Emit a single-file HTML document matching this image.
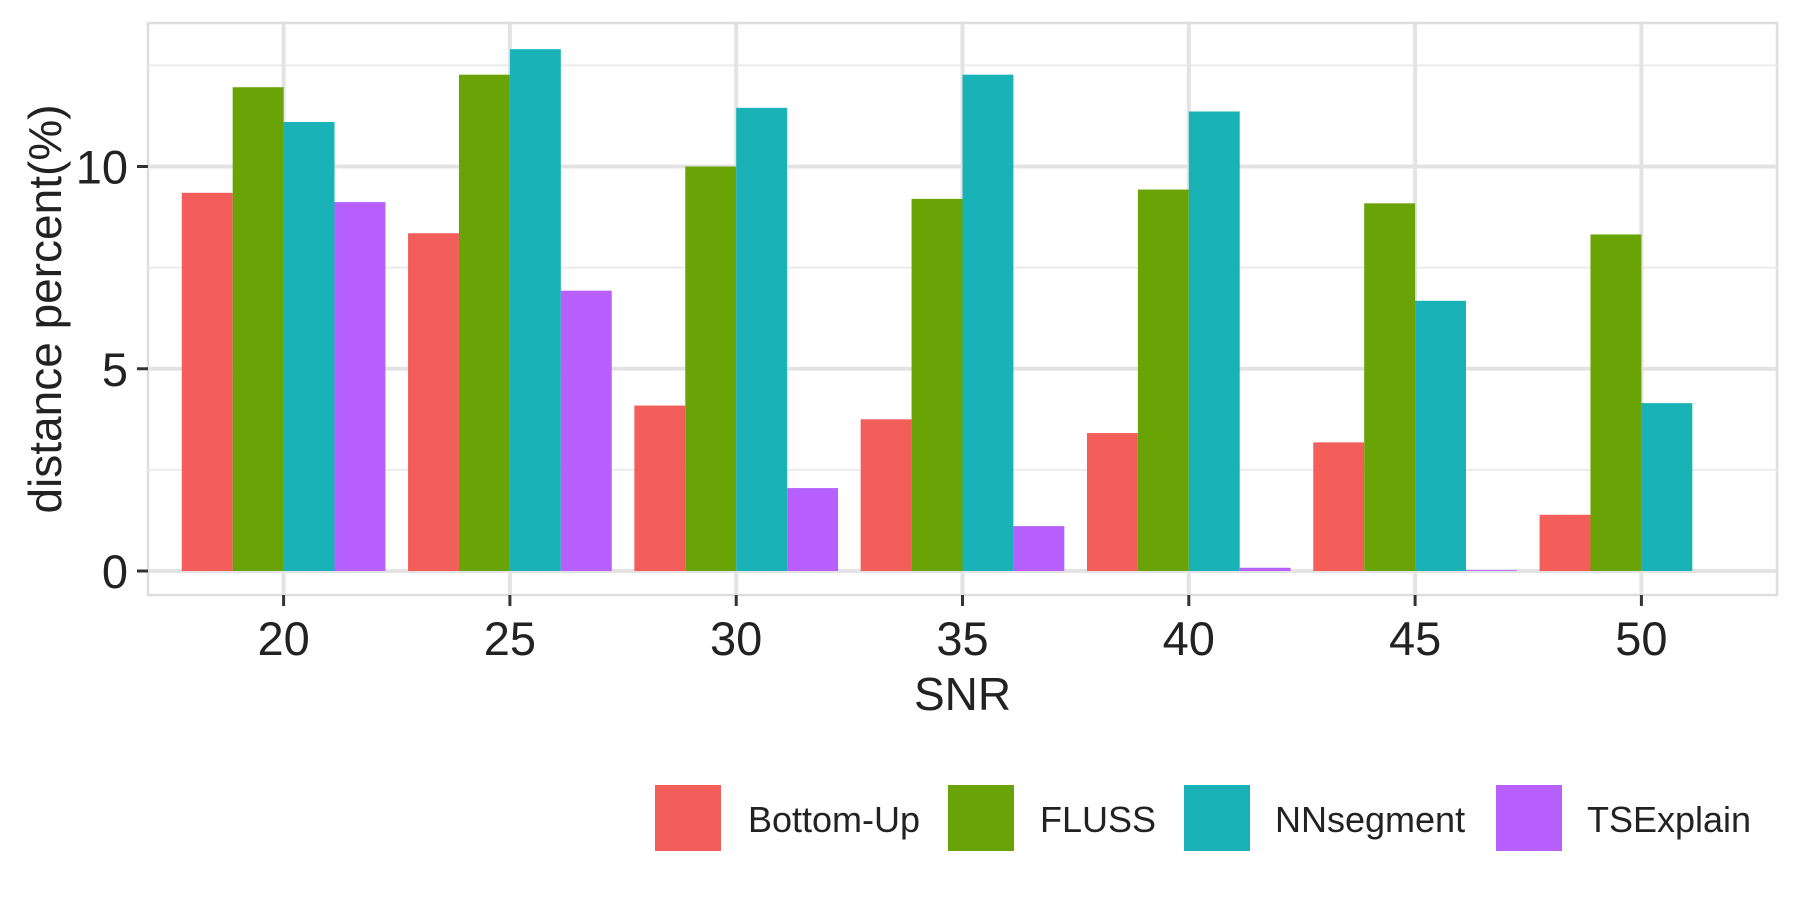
<!DOCTYPE html>
<html><head><meta charset="utf-8"><style>
html,body{margin:0;padding:0;background:#fff;}
svg text{font-family:"Liberation Sans",Arial,sans-serif;fill:#222;}
</style></head><body>
<svg id="chart" width="1800" height="900" viewBox="0 0 1800 900">
<g id="grid"></g><g id="bars"></g><g id="axes"></g><g id="legend"></g>
</svg>
<script>
const categories = ["20","25","30","35","40","45","50"];
const seriesNames = ["Bottom-Up","FLUSS","NNsegment","TSExplain"];
const bottomUp = [9.35,8.35,4.09,3.75,3.41,3.18,1.39];
const fluss = [11.96,12.27,10.0,9.2,9.43,9.09,8.32];
const nnsegment = [11.1,12.9,11.45,12.27,11.36,6.68,4.15];
const tsexplain = [9.12,6.93,2.05,1.11,0.08,0.02,0];
const yTicks = [0,5,10];
const yMinor = [2.5,7.5,12.5];
const colors = ["#F35E5A","#6AA305","#18B2B7","#B760FF"];
const series = [bottomUp,fluss,nnsegment,tsexplain];

const NS="http://www.w3.org/2000/svg";
const L=148,R=1777,T=23,B=595;
const y0=571, pxPerUnit=40.45;
const yScale=v=>y0-v*pxPerUnit;
const x0=283.6, step=226.3;
const xScale=i=>x0+i*step;
const groupW=step*0.9, barW=groupW/4;
function mk(tag,attrs,parent){const e=document.createElementNS(NS,tag);for(const k in attrs)e.setAttribute(k,attrs[k]);parent.appendChild(e);return e;}
const grid=document.getElementById('grid'),bars=document.getElementById('bars'),axes=document.getElementById('axes'),legend=document.getElementById('legend');

let panel=mk('rect',{x:L,y:T,width:R-L,height:B-T,fill:'#fff',stroke:'#dedede','stroke-width':2.5},grid);


yMinor.forEach(v=>{let l=mk('line',{x1:L,x2:R,y1:yScale(v),y2:yScale(v),stroke:'#ebebeb','stroke-width':2},grid);

});
yTicks.forEach(v=>{let l=mk('line',{x1:L,x2:R,y1:yScale(v),y2:yScale(v),stroke:'#e3e3e3','stroke-width':4},grid);

});
categories.forEach((c,i)=>{let l=mk('line',{x1:xScale(i),x2:xScale(i),y1:T,y2:B,stroke:'#e3e3e3','stroke-width':4},grid);

});

series.forEach((s,si)=>{s.forEach((v,i)=>{
 const x=xScale(i)-groupW/2+si*barW;
 const r=mk('rect',{x:x,y:Math.min(yScale(v),y0),width:barW,height:Math.max(Math.abs(y0-yScale(v)),0.01),fill:colors[si]},bars);
 
 
});});

yTicks.forEach(v=>{
 let t=mk('line',{x1:137,x2:148,y1:yScale(v),y2:yScale(v),stroke:'#333','stroke-width':3},axes);
 
 
 let tx=mk('text',{x:128,y:yScale(v)+17,'text-anchor':'end','font-size':47},axes);tx.textContent=v;
 
 
});
categories.forEach((c,i)=>{
 let t=mk('line',{x1:xScale(i),x2:xScale(i),y1:B,y2:B+11,stroke:'#333','stroke-width':3},axes);
 
 
 let tx=mk('text',{x:xScale(i),y:655,'text-anchor':'middle','font-size':47},axes);tx.textContent=c;
 
 
});
let xt=mk('text',{x:(L+R)/2,y:710,'text-anchor':'middle','font-size':46},axes);xt.textContent='SNR';


let yt=mk('text',{x:0,y:0,'text-anchor':'middle','font-size':46,transform:'translate(61,'+((T+B)/2)+') rotate(-90)'},axes);yt.textContent='distance percent(%)';



const keyX=[655,948,1184,1496], textX=[748,1040,1275,1587];
seriesNames.forEach((n,si)=>{
 const g=mk('g',{},legend);
 
 
 mk('rect',{x:keyX[si],y:785,width:66,height:66,fill:colors[si]},g);
 const t=mk('text',{x:textX[si],y:832,'font-size':36},g);t.textContent=n;
});
</script>
</body></html>
